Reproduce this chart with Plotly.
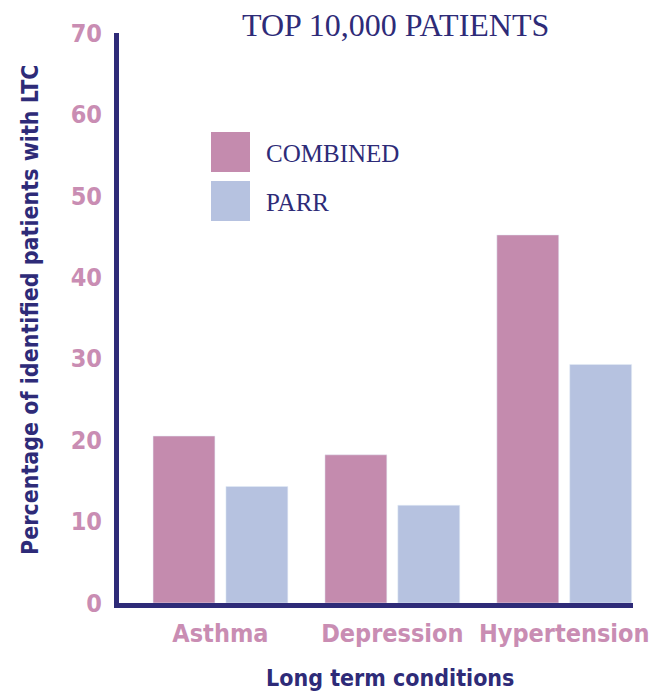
import plotly.graph_objects as go

categories = ["Asthma", "Depression", "Hypertension"]
combined = [20.5, 18.2, 45.2]
parr = [14.3, 12.0, 29.3]
series_names = ["COMBINED", "PARR"]
y_ticks = [0, 10, 20, 30, 40, 50, 60, 70]

NAVY = "#2E2B78"
PINK = "#C48BAE"
BLUE = "#B6C2E0"
TICKPINK = "#C98DB3"
SANS = "DejaVu Sans Condensed, Liberation Sans Narrow, sans-serif"
SERIF = "Liberation Serif, DejaVu Serif, serif"

xs = list(range(len(categories)))

W, H = 659, 687
L, T = 111, 25
PW, PH = 514, 570

fig = go.Figure()
fig.add_trace(go.Bar(x=xs, y=combined, name=series_names[0], marker_color=PINK,
                     width=0.36, offset=-0.392, showlegend=False))
fig.add_trace(go.Bar(x=xs, y=parr, name=series_names[1], marker_color=BLUE,
                     width=0.36, offset=0.032, showlegend=False))

fig.update_layout(
    width=W, height=H,
    margin=dict(l=L, r=W - L - PW, t=T, b=H - T - PH),
    paper_bgcolor="white", plot_bgcolor="white",
    barmode="overlay",
    xaxis=dict(range=[-0.59, 2.4], tickvals=xs, ticktext=categories,
               showgrid=False, zeroline=False, showline=True, linewidth=5,
               linecolor=NAVY, ticks="", ticklabelstandoff=4,
               tickfont=dict(family=SANS, size=25, color=TICKPINK, weight="bold")),
    yaxis=dict(range=[0, 70], tickvals=y_ticks, showgrid=False, zeroline=False,
               showline=True, linewidth=5, linecolor=NAVY, ticks="",
               ticklabelstandoff=7,
               tickfont=dict(family=SANS, size=25, color=TICKPINK, weight="bold")),
    showlegend=False,
)

# Title
fig.add_annotation(text="TOP 10,000 PATIENTS", xref="paper", yref="paper",
                   x=0.537, y=1.0, yshift=8, xanchor="center", yanchor="middle",
                   showarrow=False,
                   font=dict(family=SERIF, size=32, color=NAVY))
# Axis titles
fig.add_annotation(text="Long term conditions", xref="paper", yref="paper",
                   x=0.527, y=0, yshift=-75, xanchor="center", yanchor="middle",
                   showarrow=False,
                   font=dict(family=SANS, size=23, color=NAVY, weight="bold"))
fig.add_annotation(text="Percentage of identified patients with LTC", xref="paper",
                   yref="paper", x=0, xshift=-89, y=0.5, yshift=8, textangle=-90,
                   xanchor="center", yanchor="middle", showarrow=False,
                   font=dict(family=SANS, size=23, color=NAVY, weight="bold"))

# Legend (swatches + labels)
legend_colors = [PINK, BLUE]
for i, (nm, col) in enumerate(zip(series_names, legend_colors)):
    top = 132 + i * 49
    fig.add_shape(type="rect", xref="paper", yref="paper",
                  x0=(211 - 119) / PW, x1=(250 - 119) / PW,
                  y0=(603 - (top + 40)) / PH, y1=(603 - top) / PH,
                  fillcolor=col, line=dict(width=0))
    fig.add_annotation(text=nm, xref="paper", yref="paper",
                       x=(264 - 119) / PW, y=(603 - (top + 21)) / PH,
                       xanchor="left", yanchor="middle", showarrow=False,
                       font=dict(family=SERIF, size=25, color=NAVY))

fig.write_html("out.html")
